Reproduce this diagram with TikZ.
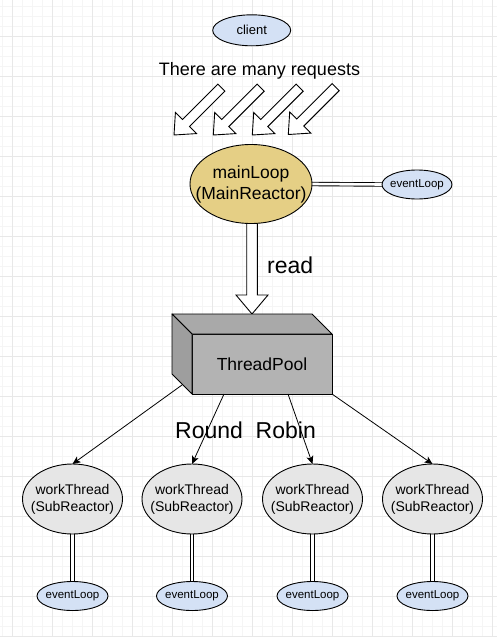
\documentclass[tikz,border=0pt]{standalone}
\usepackage{fontspec}
\setmainfont{Liberation Sans}
\usetikzlibrary{arrows.meta,shapes.geometric,calc}
\definecolor{gridmaj}{HTML}{E8E8E8}
\definecolor{gridmin}{HTML}{F5F5F5}
\definecolor{lblue}{HTML}{D4E1F5}
\definecolor{gold}{HTML}{E5CF85}
\definecolor{lgray}{HTML}{E6E6E6}
\definecolor{cubefront}{HTML}{B3B3B3}
\definecolor{cubetop}{HTML}{A9A9A9}
\definecolor{cubeleft}{HTML}{9E9E9E}
\pgfdeclarelayer{gridlayer}
\pgfdeclarelayer{bg}
\pgfsetlayers{gridlayer,bg,main}
\begin{document}
\begin{tikzpicture}[x=1pt,y=-1pt,
  ell/.style={ellipse,draw=black,line width=0.9pt,inner sep=0pt,outer sep=0pt},
  lbl/.style={align=center,inner sep=0pt},
  f11/.style={font=\fontsize{11.5}{14}\selectfont},
  f13/.style={font=\fontsize{13}{16}\selectfont},
  f14/.style={font=\fontsize{14}{16.8}\selectfont},
  f17/.style={font=\fontsize{17.5}{21}\selectfont},
  f18/.style={font=\fontsize{18}{21}\selectfont},
  f23/.style={font=\fontsize{23}{27}\selectfont},
  link/.style={draw=black,line width=0.9pt,double=white,double distance=2.6pt},
  hollow/.style={draw=black,line width=0.9pt,fill=white,line join=miter},
  conn/.style={draw=black,line width=0.8pt,-{Stealth[length=8pt,width=7pt,inset=2pt]}}
]
\useasboundingbox (0,0) rectangle (497,637);
\begin{pgfonlayer}{gridlayer}
  \fill[white] (0,0) rectangle (497,637);
  \foreach \gx in {2,12,...,497} \draw[gridmin,line width=0.8pt] (\gx,0) -- (\gx,637);
  \foreach \gy in {6,16,...,637} \draw[gridmin,line width=0.8pt] (0,\gy) -- (497,\gy);
  \foreach \gx in {12,52,...,497} \draw[gridmaj,line width=0.9pt] (\gx,0) -- (\gx,637);
  \foreach \gy in {36,76,...,637} \draw[gridmaj,line width=0.9pt] (0,\gy) -- (497,\gy);
\end{pgfonlayer}

% top
\node[ell,fill=lblue,minimum width=78,minimum height=31,label={[lbl,f13]center:client}] (client) at (251.7,30.3) {};
\node[f18,inner sep=0pt,anchor=base] (req) at (259.5,75) {There are many requests};

% many request arrows
\foreach \tx/\ty in {174/135,213.3/135,252.3/135,288.3/134.5}{
  \begin{scope}[shift={(\tx,\ty)},rotate=45]
    \draw[hollow] (0,0) -- (17,15) -- (17,5) -- (67,5) -- (67,-5) -- (17,-5) -- (17,-15) -- cycle;
  \end{scope}
}

% main loop
\node[ell,fill=gold,minimum width=122,minimum height=79,label={[lbl,f17]center:mainLoop\\(MainReactor)}] (main) at (251,184) {};
\node[ell,fill=lblue,minimum width=70,minimum height=29,label={[lbl,f11]center:eventLoop}] (ev0) at (417,184.5) {};
\begin{pgfonlayer}{bg}
  \draw[link] (main.east) -- (ev0.west);
\end{pgfonlayer}

% thread pool cube
\node[draw=black,line width=0.9pt,fill=cubefront,minimum width=140,minimum height=60,inner sep=0pt,outer sep=0pt,f17] (tp) at (262,364) {ThreadPool};
\draw[line width=0.9pt,fill=cubetop,line join=round] (tp.north west) -- ([shift={(-20,-20)}]tp.north west) -- ([shift={(-20,-20)}]tp.north east) -- (tp.north east) -- cycle;
\draw[line width=0.9pt,fill=cubeleft,line join=round] (tp.north west) -- ([shift={(-20,-20)}]tp.north west) -- ([shift={(-20,-20)}]tp.south west) -- (tp.south west) -- cycle;
\coordinate (readtip) at ([shift={(-10,-20)}]tp.north);

% read arrow
\begin{pgfonlayer}{bg}
\draw[hollow] let \p1=(main.south), \p2=(readtip) in
  (\x2-5.3pt,\y1+8pt) -- (\x2-5.3pt,\y2+19pt) -- (\x2-16pt,\y2+19pt) -- (\x2,\y2)
  -- (\x2+16pt,\y2+19pt) -- (\x2+5.3pt,\y2+19pt) -- (\x2+5.3pt,\y1+8pt);
\end{pgfonlayer}
\node[f23,inner sep=0pt,anchor=base west] (read) at (267,273) {read};

% work threads
\foreach \i/\cx in {1/72.5,2/192,3/312.5,4/432.5}{
  \node[ell,fill=lgray,minimum width=100,minimum height=70,label={[lbl,f14]center:workThread\\(SubReactor)}] (w\i) at (\cx,499) {};
  \node[ell,fill=lblue,minimum width=71,minimum height=29,label={[lbl,f11]center:eventLoop}] (e\i) at (\cx,596) {};
  \begin{pgfonlayer}{bg}
    \draw[link] (w\i.south) -- (e\i.north);
  \end{pgfonlayer}
}

% round robin edges
\coordinate (s1) at ([shift={(-10,-9)}]tp.south west);
\coordinate (s2) at ([xshift=32]tp.south west);
\coordinate (s3) at ([xshift=96]tp.south west);
\coordinate (s4) at (tp.south east);
\foreach \i in {1,2,3,4} \draw[conn] (s\i) -- (w\i.north);
\node[f23,inner sep=0pt,anchor=base west] (rr) at (175,438) {Round~~Robin};
\end{tikzpicture}
\end{document}
